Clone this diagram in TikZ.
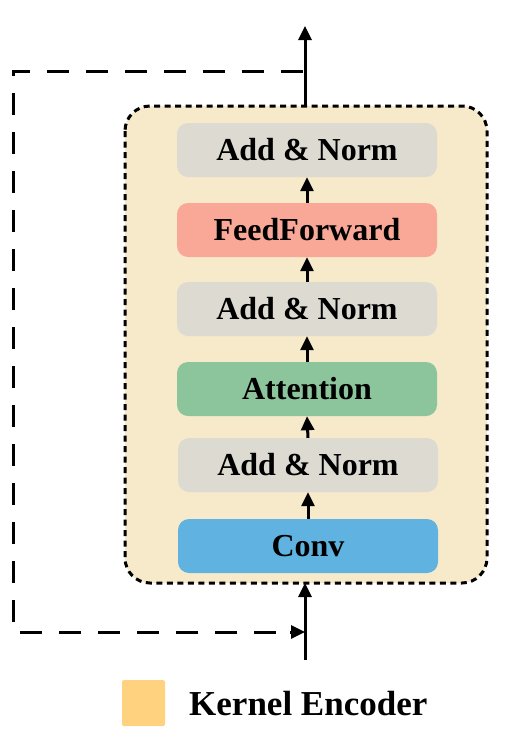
\documentclass[tikz,border=0pt]{standalone}
\usepackage{fontspec}
\setmainfont{Liberation Serif}
\usetikzlibrary{arrows.meta,positioning}
\definecolor{contfill}{HTML}{F6EACA}
\definecolor{normfill}{HTML}{DDDAD2}
\definecolor{fffill}{HTML}{F9A898}
\definecolor{attfill}{HTML}{8CC49C}
\definecolor{convfill}{HTML}{60B2E0}
\definecolor{legfill}{HTML}{FFD27F}
\tikzset{
  blk/.style={rounded corners=11pt, minimum width=260pt, minimum height=54pt, inner sep=0pt,
    font=\fontsize{32}{36}\selectfont\bfseries, text=black},
  flow/.style={line width=3pt, -{Triangle[length=14pt,width=13pt]}},
  loopline/.style={line width=3pt, dash pattern=on 22pt off 17pt},
}
\begin{document}
\begin{tikzpicture}[x=1pt,y=-1pt]
\useasboundingbox (0,0) rectangle (520,740);
% container
\draw[fill=contfill, line width=3pt, dash pattern=on 6pt off 4.5pt, rounded corners=25pt]
  (125,106) rectangle (487,583);
\coordinate (ctop) at (305,106);
\coordinate (cbot) at (305,583);
% blocks
\node[blk, fill=normfill] (an1) at (307,150) {Add \& Norm};
\node[blk, fill=fffill] (ff) at (307,230) {FeedForward};
\node[blk, fill=normfill] (an2) at (307,309) {Add \& Norm};
\node[blk, fill=attfill] (att) at (307,389) {Attention};
\node[blk, fill=normfill] (an3) at (308,465) {Add \& Norm};
\node[blk, fill=convfill] (conv) at (308,546) {Conv};
% inner arrows
\draw[flow] (conv.north) -- (an3.south);
\draw[flow] (an3.north) -- (att.south);
\draw[flow] (att.north) -- (an2.south);
\draw[flow] (an2.north) -- (ff.south);
\draw[flow] (ff.north) -- (an1.south);
% outer arrows
\coordinate (out) at (305,26);
\coordinate (in) at (305,660);
\draw[flow] (ctop) -- (out);
\draw[flow] (in) -- (cbot);
% residual dashed loop
\coordinate (lstart) at (303,71);
\coordinate (lend) at (305,632);
\draw[loopline] (lstart) -- (13,71) -- (13,632) -- (292,632);
\draw[line width=3pt, -{Triangle[length=14pt,width=13pt]}] (290,632) -- (lend);
% legend
\node[fill=legfill, rounded corners=1.5pt, minimum width=43pt, minimum height=46pt, inner sep=0pt] (leg) at (143.5,703) {};
\node[anchor=west, inner sep=0pt, font=\fontsize{35}{40}\selectfont\bfseries] (legtxt) at (189,704) {Kernel Encoder};
\end{tikzpicture}
\end{document}
